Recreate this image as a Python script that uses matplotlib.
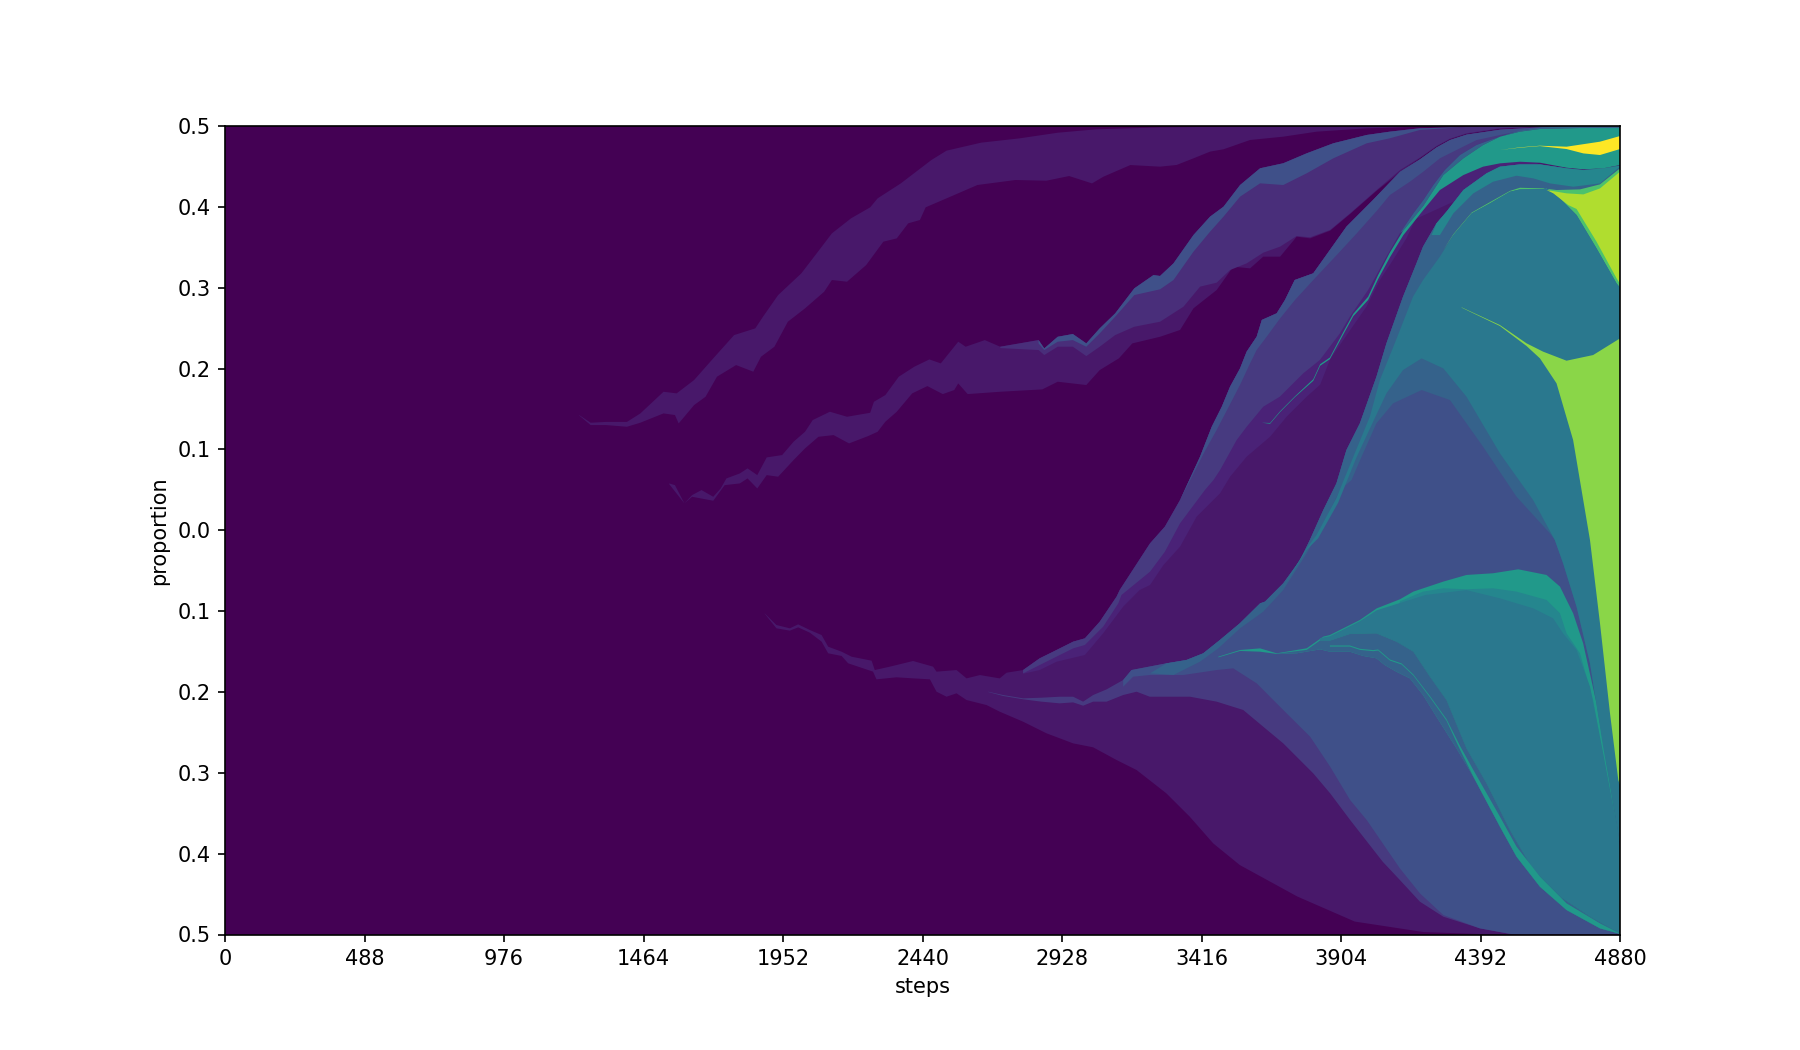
import matplotlib
matplotlib.use('Agg')
import matplotlib.pyplot as plt

# tick labels
x_ticks = [0, 488, 976, 1464, 1952, 2440, 2928, 3416, 3904, 4392, 4880]
y_ticks = [-0.5, -0.4, -0.3, -0.2, -0.1, 0.0, 0.1, 0.2, 0.3, 0.4, 0.5]
y_labels = ['0.5', '0.4', '0.3', '0.2', '0.1', '0.0', '0.1', '0.2', '0.3', '0.4', '0.5']

# colours of the clones
c_base = '#440154'
c_dark = '#48186a'
c_medium = '#4a2277'
c_wide_top = '#492e7a'
c_wide = '#473a80'
c_blue = '#3f5089'
c_steel = '#35628b'
c_teal = '#2a788e'
c_mid = '#25868e'
c_green = '#21998a'
c_lime = '#4cc26c'
c_leaf = '#8ad648'
c_olive = '#b0dd2f'
c_yellow = '#fde725'

# edges, (step, proportion)
top_upper = [(1239, .1425), (1279, .133), (1333, .134), (1406, .134), (1453, .1445), (1534, .1713), (1580, .1693),
             (1641, .1858), (1708, .2126), (1781, .2414), (1855, .2497), (1882, .2641), (1935, .2909), (2016, .3177),
             (2083, .3486), (2123, .3672), (2190, .3858), (2257, .3994), (2283, .4105), (2364, .429), (2471, .4579),
             (2524, .4695), (2645, .4794), (2779, .4847), (2913, .4917), (3047, .4959), (3271, .4983), (3600, .4995),
             (4000, .5)]
top_lower = [(1239, .142), (1279, .1301), (1333, .1301), (1406, .128), (1453, .133), (1534, .1445), (1574, .1425),
             (1587, .1321), (1641, .1548), (1681, .1651), (1721, .1899), (1788, .2043), (1848, .1961), (1875, .2146),
             (1922, .227), (1969, .2579), (2029, .2744), (2096, .295), (2123, .3095), (2176, .3074), (2243, .328),
             (2303, .3569), (2350, .361), (2390, .3796), (2431, .3837), (2451, .3994), (2551, .4146), (2632, .427),
             (2765, .4332), (2873, .4323), (2953, .4381), (3033, .429), (3073, .4373), (3167, .4517), (3271, .4497),
             (3329, .4518), (3388, .46), (3446, .4683), (3493, .4712), (3586, .4827), (3702, .4868), (3819, .493),
             (3994, .4971), (4180, .499), (4300, .5)]

mid_upper = [(1554, .0579), (1574, .0558), (1607, .0332), (1634, .0435), (1667, .0497), (1708, .0414), (1734, .0517),
             (1754, .0641), (1801, .0703), (1828, .0765), (1862, .0682), (1895, .0901), (1949, .093), (1989, .1095),
             (2029, .1218), (2056, .1363), (2116, .1466), (2176, .1404), (2257, .1453), (2270, .1589), (2310, .1672),
             (2357, .1899), (2411, .2022), (2464, .2113), (2504, .2064), (2565, .2332), (2591, .227), (2658, .2352),
             (2712, .227), (2846, .2352), (2866, .2249), (2913, .2393), (2966, .2427), (3013, .2311), (3060, .2497),
             (3114, .2682), (3181, .2992), (3248, .3156), (3271, .3145), (3318, .3301), (3388, .3652), (3446, .3879),
             (3493, .4002), (3551, .427), (3621, .4477), (3702, .4539), (3784, .4662), (3877, .4786), (3994, .4889),
             (4075, .493), (4180, .4972), (4500, .5)]
mid_lower = [(1554, .057), (1607, .0332), (1634, .0414), (1708, .0365), (1748, .0558), (1801, .0579), (1828, .0641),
             (1862, .0517), (1895, .0682), (1935, .0662), (1989, .0868), (2029, .1012), (2076, .1156), (2129, .1177),
             (2183, .1074), (2250, .1165), (2283, .1218), (2310, .1342), (2350, .1466), (2404, .1693), (2457, .1783),
             (2511, .1684), (2551, .1734), (2565, .1816), (2598, .1684), (2712, .1713), (2859, .1742), (2913, .1837),
             (3013, .1796), (3060, .1981), (3127, .2126), (3174, .2311), (3271, .2393), (3341, .2477), (3388, .2745),
             (3469, .2971), (3527, .326), (3586, .3239), (3632, .3384), (3691, .3384), (3749, .3631), (3796, .361),
             (3866, .3705), (3936, .3912), (4029, .42), (4110, .4427), (4180, .46), (4238, .4744), (4285, .4835),
             (4343, .4901), (4460, .4963), (4600, .4983), (4700, .5)]
mid_wide_lower = [(2712, .2253), (2846, .2229), (2866, .2167), (2913, .227), (2966, .227), (3013, .2154), (3060, .227),
                  (3114, .2414), (3181, .2517), (3271, .2579), (3353, .2765), (3411, .3013), (3469, .3062),
                  (3516, .3219), (3574, .3301), (3632, .3433), (3691, .3508), (3749, .3639), (3796, .3623),
                  (3866, .3714), (3936, .392), (4029, .4209), (4111, .4456), (4180, .4608), (4238, .4752),
                  (4285, .4843), (4343, .4909), (4460, .4971), (4600, .4987), (4700, .5)]
mid_blue_lower = [(2846, .2311), (2866, .2229), (2913, .2332), (2966, .2352), (3013, .227), (3060, .2435),
                  (3114, .2641), (3181, .2909), (3271, .298), (3318, .3095), (3388, .3446), (3446, .3693),
                  (3493, .3879), (3551, .4126), (3621, .4291), (3702, .427), (3784, .4415), (3877, .46),
                  (3994, .4786), (4075, .4848), (4180, .4951), (4350, .499), (4500, .5)]

low_upper = [(1888, -.1028), (1929, -.1172), (1976, -.1213), (2005, -.1164), (2046, -.1234), (2087, -.1296),
             (2110, -.144), (2157, -.1502), (2192, -.1564), (2262, -.1613), (2273, -.1729), (2326, -.1687),
             (2407, -.1617), (2477, -.1687), (2489, -.1749), (2559, -.1729), (2594, -.1832), (2641, -.1791),
             (2710, -.1832), (2734, -.1762), (2792, -.1729), (2850, -.1584), (2897, -.1502), (2967, -.1378),
             (3008, -.1337), (3060, -.1131), (3119, -.0821), (3130, -.0739), (3236, -.0162), (3288, .0045),
             (3341, .0374), (3411, .091), (3452, .1281), (3487, .1528), (3516, .1776), (3551, .2003), (3574, .2209),
             (3609, .2394), (3627, .2601), (3679, .2683), (3708, .2848), (3742, .3095), (3807, .3178), (3865, .3466),
             (3923, .3755), (4016, .4085), (4111, .4435), (4180, .4587), (4238, .4734), (4285, .4826), (4343, .4893),
             (4460, .4954), (4600, .4983), (4700, .5), (4880, .5)]
low_lower = [(1888, -.1032), (1929, -.1213), (1976, -.1242), (2005, -.1201), (2046, -.1267), (2087, -.1378),
             (2110, -.1522), (2157, -.1555), (2180, -.1646), (2267, -.1749), (2279, -.1844), (2349, -.1819),
             (2407, -.1832), (2466, -.1844), (2489, -.1997), (2524, -.2059), (2559, -.2017), (2594, -.21),
             (2664, -.2162), (2710, -.2244), (2792, -.2368), (2874, -.2512), (2967, -.2636), (3037, -.2685),
             (3119, -.2842), (3189, -.2966), (3293, -.3254), (3375, -.3543), (3457, -.3873), (3550, -.4141),
             (3751, -.453), (3952, -.484), (4193, -.497), (4434, -.5), (4880, -.5)]
low_wide_lower = [(2792, -.177), (2850, -.1667), (2897, -.1584), (2967, -.1461), (3008, -.1419), (3072, -.1193),
                  (3125, -.0904), (3136, -.0801), (3236, -.0512), (3288, -.0265), (3341, .0086), (3428, .0498),
                  (3458, .0622), (3481, .0745), (3539, .1116), (3574, .128), (3632, .1528), (3690, .1652),
                  (3772, .1941), (3830, .2106), (3900, .2435), (3935, .2642), (3999, .2972), (4028, .3157),
                  (4063, .3384), (4110, .3673), (4157, .3919), (4192, .4084), (4227, .427), (4267, .4455),
                  (4320, .4641), (4378, .4765), (4425, .4826), (4495, .4909), (4530, .4945), (4600, .498),
                  (4700, .5), (4880, .5)]
low_medium_lower = [(2792, -.1775), (2850, -.1729), (2909, -.1626), (3008, -.1543), (3072, -.1275), (3142, -.0945),
                    (3200, -.0739), (3236, -.0677), (3283, -.043), (3341, -.0203), (3399, .0168), (3481, .0457),
                    (3516, .0662), (3574, .091), (3656, .1157), (3714, .1405), (3784, .1652), (3831, .18),
                    (3865, .2106), (3912, .2353), (3993, .2765), (4040, .3095), (4086, .3343), (4133, .3611),
                    (4165, .385)]
low_blue_lower = [(3341, .0374), (3428, .098), (3469, .124), (3516, .156), (3551, .18), (3586, .2064), (3609, .223),
                  (3644, .2394), (3691, .2621), (3743, .2848), (3807, .3095), (3889, .3404), (3959, .3672),
                  (4029, .395), (4075, .4146), (4145, .4311), (4192, .4435), (4250, .46), (4308, .4703),
                  (4378, .4826), (4460, .4888), (4560, .496), (4700, .5)]

# second branch of the lower clone, its upper edge runs up to the right border
branch_upper = [(2670, -.1997), (2722, -.2038), (2792, -.2079), (2856, -.2071), (2920, -.2059), (2967, -.2059),
                (3002, -.212), (3037, -.2038), (3084, -.1968), (3142, -.1852), (3171, -.1729), (3293, -.1646),
                (3363, -.1605), (3422, -.1522), (3480, -.1358), (3550, -.1151), (3621, -.0904), (3638, -.0883),
                (3702, -.0656), (3761, -.0368), (3795, -.0121), (3842, .025), (3888, .058), (3923, .0992),
                (3970, .1322), (4028, .1899), (4063, .2312), (4121, .2889), (4168, .3301), (4191, .3508),
                (4238, .3796), (4273, .394), (4332, .4208), (4413, .4414), (4460, .4497), (4530, .4525),
                (4600, .4525), (4693, .4476), (4752, .4455), (4821, .4476), (4880, .4509)]
branch_lower = [(2670, -.2001), (2722, -.205), (2792, -.2091), (2856, -.212), (2920, -.2141), (2967, -.2129),
                (3002, -.217), (3037, -.212), (3084, -.212), (3142, -.2038), (3189, -.1997), (3235, -.2059),
                (3294, -.2059), (3376, -.2059), (3469, -.212), (3562, -.2223), (3632, -.243), (3702, -.2636),
                (3807, -.3007), (3866, -.3254), (3936, -.3584), (4050, -.41), (4110, -.4326), (4180, -.4594),
                (4262, -.478), (4390, -.4924), (4495, -.4994), (4560, -.5)]
blue_lower = [(3142, -.1935), (3177, -.1811), (3236, -.179), (3353, -.179), (3469, -.1729), (3527, -.1708),
              (3609, -.1893), (3702, -.2223), (3796, -.2553), (3866, -.2924), (3936, -.3337), (3994, -.3584),
              (4110, -.4182), (4180, -.4491), (4262, -.4759), (4390, -.4924), (4500, -.4994), (4560, -.5),
              (4880, -.5)]
steel_lower = [(3236, -.177), (3318, -.179), (3411, -.1625), (3475, -.146), (3551, -.1213), (3632, -.1007),
               (3702, -.0739), (3784, -.0285), (3854, .0168), (3901, .0498), (3941, .0622), (3976, .091),
               (4028, .1322), (4086, .1569), (4186, .1734), (4285, .1611), (4401, .1033), (4518, .0415),
               (4635, -.0039), (4652, -.012), (4681, -.0409), (4728, -.0945), (4775, -.1646), (4821, -.2677),
               (4874, -.3749), (4880, -.385)]

# big dome at the right
dome_upper = [(3702, -.0698), (3784, -.0223), (3818, -.006), (3888, .04), (3952, .0951), (4005, .1405), (4040, .1858),
              (4092, .2312), (4156, .2889), (4191, .3095), (4250, .3384), (4297, .3651), (4361, .3919), (4425, .4043),
              (4495, .4187), (4530, .4216), (4612, .422), (4623, .4229), (4670, .4105), (4728, .3899), (4798, .3486),
              (4868, .3054), (4880, .3)]
dome_lower = [(3702, -.0702), (3784, -.0243), (3824, -.01), (3894, .034), (3958, .09), (4016, .134), (4063, .1693),
              (4121, .1982), (4186, .2126), (4262, .2002), (4343, .1652), (4460, .0951), (4576, .0374), (4652, -.0121),
              (4681, -.0409), (4728, -.0945), (4775, -.1646), (4821, -.2677), (4874, -.3749), (4880, -.385)]

# wedge in the lower half
wedge_upper = [(3475, -.1564), (3551, -.1481), (3621, -.1461), (3679, -.1522), (3784, -.146), (3842, -.1316),
               (3865, -.1296), (3912, -.1213), (3970, -.111), (4029, -.0966), (4110, -.0854), (4157, -.0759),
               (4262, -.0635), (4343, -.0553), (4436, -.0532), (4524, -.0483), (4623, -.0553), (4670, -.0697),
               (4716, -.1027), (4751, -.1398), (4798, -.2141), (4845, -.313), (4874, -.379), (4880, -.4)]
wedge_lower = [(3475, -.1572), (3551, -.1493), (3621, -.1502), (3679, -.153), (3749, -.1522), (3831, -.1473),
               (3865, -.1502), (3935, -.1502), (3982, -.1555), (4028, -.1584), (4057, -.1667), (4098, -.175),
               (4145, -.1832), (4191, -.2038), (4238, -.2306), (4308, -.2698), (4367, -.3048), (4460, -.3666),
               (4518, -.4037), (4600, -.4409), (4693, -.4697), (4810, -.4924), (4874, -.4986), (4880, -.5)]
wedge_mid_upper = [(4110, -.088), (4190, -.076), (4262, -.0718), (4343, -.073), (4436, -.0718), (4518, -.0759),
                   (4623, -.0862), (4670, -.1027), (4693, -.1275), (4740, -.1522), (4786, -.21), (4833, -.3007),
                   (4874, -.375), (4880, -.4)]
wedge_main_upper = [(3830, -.1335), (3865, -.131), (3912, -.1228), (3970, -.1125), (4029, -.099), (4110, -.09),
                    (4200, -.08), (4343, -.074), (4460, -.0842), (4576, -.0965), (4646, -.1089), (4681, -.1275),
                    (4728, -.1481), (4775, -.1934), (4821, -.276), (4874, -.375), (4880, -.4)]
wedge_steel_upper = [(3679, -.1526), (3784, -.148), (3830, -.1365), (3865, -.1366), (3935, -.1283), (4028, -.1275),
                     (4098, -.1378), (4157, -.1502), (4215, -.1811), (4273, -.21), (4343, -.2698), (4413, -.313),
                     (4495, -.3708), (4576, -.4202), (4670, -.4532), (4775, -.478), (4874, -.4978), (4880, -.5)]
thin_upper = [(3865, -.1425), (3935, -.1425), (3970, -.1466), (4017, -.1482), (4034, -.1474), (4075, -.1598),
              (4116, -.1647), (4157, -.1783), (4215, -.205), (4273, -.2335), (4320, -.2665), (4367, -.2965),
              (4460, -.3543), (4518, -.3914), (4600, -.4285), (4693, -.4615), (4810, -.4862), (4874, -.4978),
              (4880, -.5)]
thin_lower = [(3865, -.1439), (3935, -.1439), (3970, -.148), (4017, -.1496), (4034, -.1488), (4075, -.1612),
              (4116, -.1661), (4157, -.1797), (4215, -.2066), (4273, -.2355), (4320, -.2712), (4367, -.3048),
              (4460, -.3666), (4518, -.4037), (4600, -.4409), (4693, -.4697), (4810, -.4924), (4874, -.4986),
              (4880, -.5)]

# leaf green clone
leaf_upper = [(4326, .2757), (4460, .2538), (4553, .2312), (4611, .2209), (4693, .2097), (4786, .2167), (4880, .2373)]
leaf_lower = [(4326, .2753), (4460, .2526), (4553, .2279), (4600, .2126), (4658, .1817), (4716, .1116), (4775, -.0121),
              (4810, -.1151), (4845, -.2264), (4874, -.3089), (4880, -.315)]

# top right corner
streak_upper = [(3627, .133), (3656, .1327), (3691, .1472), (3743, .1657), (3807, .1868), (3831, .2054), (3865, .2136),
                (3912, .2451), (3947, .2677), (3999, .2889), (4034, .3157), (4075, .3435), (4121, .3703),
                (4192, .4012), (4262, .4394), (4332, .46), (4401, .4765), (4460, .4868), (4530, .493), (4600, .4963),
                (4740, .4975), (4880, .4975)]
streak_lower = [(3627, .133), (3656, .1317), (3691, .1462), (3743, .1647), (3807, .1848), (3831, .2034), (3865, .2116),
                (3912, .2421), (3947, .2647), (3999, .2849), (4034, .3107), (4075, .3375), (4122, .365),
                (4192, .396), (4250, .4208), (4332, .4393), (4401, .4497), (4460, .4538), (4530, .4558), (4600, .4546),
                (4693, .4484), (4752, .4464), (4821, .4476), (4880, .4517)]
thin_teal_lower = [(4221, .3651), (4250, .3651), (4297, .3919), (4367, .4167), (4436, .4311), (4518, .4385),
                   (4577, .4352), (4635, .429), (4717, .4249), (4810, .429), (4880, .4497)]
lime_upper = [(4262, .3466), (4297, .3661), (4361, .3929), (4425, .4058), (4495, .4197), (4530, .4236), (4612, .4228),
              (4658, .4208), (4740, .4216), (4810, .4278), (4880, .4476)]
olive_upper = [(4623, .4208), (4693, .4167), (4752, .4154), (4810, .4228), (4880, .4435)]
olive_lower = [(4623, .4208), (4647, .4167), (4699, .4022), (4728, .3974), (4798, .3569), (4868, .3116), (4880, .305)]
yellow_upper = [(4460, .4703), (4530, .4736), (4600, .4756), (4693, .4744), (4810, .4806), (4880, .4876)]
yellow_lower = [(4460, .4703), (4530, .4732), (4600, .4752), (4693, .4715), (4752, .4661), (4810, .4641), (4880, .4715)]


def desde(borde, inicio, fin=4880):
    return [p for p in borde if inicio <= p[0] <= fin]


def pinta(ax, arriba, abajo, color):
    xs = [p[0] for p in arriba] + [p[0] for p in abajo[::-1]]
    ys = [p[1] for p in arriba] + [p[1] for p in abajo[::-1]]
    ax.fill(xs, ys, color=color, linewidth=0)


fig, ax = plt.subplots(figsize=(12, 7), dpi=150)
ax.set_facecolor(c_base)

# top clone
pinta(ax, top_upper, top_lower, c_dark)

# middle clone and its children
pinta(ax, mid_upper, mid_lower, c_dark)
pinta(ax, desde(mid_upper, 2712), mid_wide_lower, c_wide_top)
pinta(ax, desde(mid_upper, 2846), mid_blue_lower, c_blue)

# lower clone and its children
pinta(ax, low_upper, low_lower, c_dark)
pinta(ax, desde(low_upper, 2792), low_medium_lower, c_medium)
pinta(ax, desde(low_upper, 2792), low_wide_lower, c_wide)
pinta(ax, desde(low_upper, 3341), low_blue_lower, c_blue)

# branch, painted from the outside to the inside
pinta(ax, branch_upper, branch_lower, c_wide)
pinta(ax, desde(branch_upper, 3142), blue_lower, c_blue)
pinta(ax, desde(branch_upper, 3236), steel_lower, c_steel)
pinta(ax, desde(branch_upper, 4221), thin_teal_lower, c_mid)

# wedge in the lower half
pinta(ax, wedge_upper, wedge_lower, c_green)
pinta(ax, wedge_mid_upper, desde(wedge_steel_upper, 4098), c_mid)
pinta(ax, wedge_main_upper, desde(wedge_steel_upper, 3830), c_teal)
pinta(ax, wedge_steel_upper, desde(wedge_lower, 3679), c_steel)
pinta(ax, thin_upper, thin_lower, c_green)

# dome and what grows over it
pinta(ax, lime_upper, desde(dome_upper, 4262), c_lime)
pinta(ax, dome_upper, dome_lower, c_teal)
pinta(ax, olive_upper, olive_lower, c_olive)
pinta(ax, leaf_upper, leaf_lower, c_leaf)

# top right corner
pinta(ax, desde(low_wide_lower, 4110), desde(streak_upper, 4121), c_steel)
pinta(ax, streak_upper, streak_lower, c_green)
pinta(ax, yellow_upper, yellow_lower, c_yellow)

ax.set_xlim(0, 4880)
ax.set_ylim(-0.5, 0.5)
ax.set_xticks(x_ticks)
ax.set_yticks(y_ticks)
ax.set_yticklabels(y_labels)
ax.set_xlabel('steps')
ax.set_ylabel('proportion')

plt.savefig('out.png')
